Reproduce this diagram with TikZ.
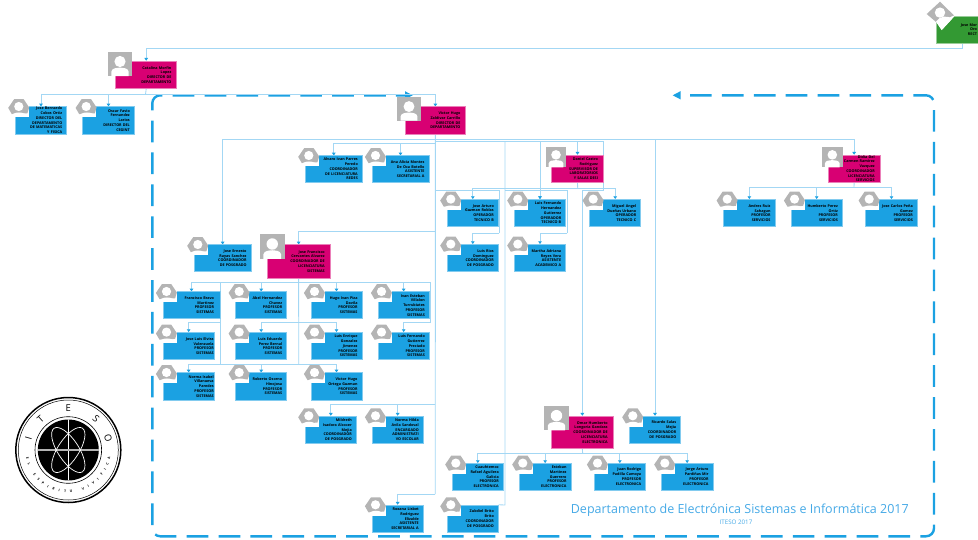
\documentclass[tikz,border=0pt]{standalone}
\usepackage{fontspec}
\setmainfont{Open Sans}
\usetikzlibrary{arrows.meta,calc}
\definecolor{cblue}{HTML}{1BA1E2}
\definecolor{cmag}{HTML}{D80073}
\definecolor{cgreen}{HTML}{339933}
\definecolor{cline}{HTML}{A3D7F4}
\definecolor{cgray}{HTML}{B4B4B4}
\definecolor{ctitle}{HTML}{45A9E6}
\pgfdeclarelayer{bg}
\pgfsetlayers{bg,main}
\tikzset{
  x=1pt,y=-1pt,
  cardbase/.style={rectangle,inner ysep=0pt,align=right,text=black,font=\bfseries\fontsize{3.7}{4.75}\selectfont},
  bluecard/.style={cardbase,fill=cblue,draw=cblue!55,line width=.5pt},
  magcard/.style={cardbase,fill=cmag,draw=cmag!50,line width=.5pt},
  greencard/.style={cardbase,fill=cgreen,draw=cgreen!50,line width=.5pt},
  link/.style={draw=cline,line width=.85pt},
  arr/.style={link,-{Triangle[width=3.6pt,length=2.8pt,color=cblue]}},
  frame/.style={draw=cblue,line width=2.4pt,dash pattern=on 21.7pt off 10.2pt,rounded corners=8pt},
  titletext/.style={text=ctitle,inner sep=0pt}
}
% #1 name #2 x0 #3 y0 #4 x1 #5 y1 #6 margin #7 style #8 text
\newcommand\basecard[8]{%
  \pgfmathsetmacro\crdw{#4-#2}%
  \pgfmathsetmacro\crdh{#5-#3}%
  \pgfmathsetmacro\crdx{(#4+#2)/2}%
  \pgfmathsetmacro\crdy{(#5+#3)/2}%
  \pgfmathsetmacro\crdt{#4-#2-2*#6}%
  \node[#7,inner xsep=#6pt,minimum width=\crdw pt,minimum height=\crdh pt,text width=\crdt pt] (#1) at (\crdx,\crdy) {#8};%
}
% blue card with hexagon portrait: [margin]{name}{x0}{y0}{x1}{y1}{text}
\newcommand\bcard[7][4.5]{%
  \basecard{#2}{#3}{#4}{#5}{#6}{#1}{bluecard}{#7}%
  \fill[white] (#3-.7,#4-.7) rectangle (#3+13.7,#4+10.7);%
  \begin{scope}[shift={(#3+3.5,#4)}]
    \fill[cgray] (-10.6,1.2) -- (-4.6,-7.6) -- (4.8,-7.6) -- (10.4,.8) -- (8.6,6.6) -- (-7,7.4) -- cycle;
    \fill[white] (0,-.2) circle (4.6);
    \fill[white] (-7.4,10.7) .. controls (-7.4,4.4) and (8.6,4.4) .. (8.6,10.7) -- cycle;
  \end{scope}%
}
% magenta card with square portrait: [size]{name}{x0}{y0}{x1}{y1}{left}{top}{text}
\newcommand\mcard[9][24]{%
  \basecard{#2}{#3}{#4}{#5}{#6}{5.3}{magcard}{#9}%
  \fill[white] (#3-.7,#4-.7) rectangle (#7+#1,#8+#1);%
  \begin{scope}[shift={(#7,#8)},scale=#1/24]
    \fill[cgray] (0,0) rectangle (24,24);
    \fill[white] (12,9.5) circle (5.6);
    \fill[white] (3.4,24) -- (3.4,19.5) .. controls (4,15.8) and (9,16) .. (12,15.6) .. controls (15,16) and (20,15.8) .. (20.6,19.5) -- (20.6,24) -- cycle;
  \end{scope}%
}
\begin{document}
\begin{tikzpicture}
\useasboundingbox (0,0) rectangle (978,539);
% --- Green card (runs to the page edge)
\basecard{rector}{936.7}{16}{978}{43}{1}{greencard}{Jose Mor\\Oro\\RECT}
\fill[white] (936,15.3) -- (936,21.7) -- (941.7,30) -- (954,16.7) -- (954,15.3) -- cycle;
\fill[cgray] (940,1.7) -- (926.7,14) -- (936.7,22.6) -- (954,15.4) -- cycle;
\fill[white] (940,12.6) circle (5.2);
\fill[white] (936,21.5) -- (941.7,30) -- (952,18.8) .. controls (947,15) and (940,16) .. cycle;
% --- Direction
\mcard{catalina}{115.7}{61}{176.7}{88.7}{108}{52}{Catalina Morfin\\Lopez\\DIRECTOR DE\\DEPARTAMENTO}
\bcard{bernardo}{15.3}{106.7}{66.7}{134}{Jose Bernardo\\Cobos Ortiz\\DIRECTOR DEL\\DEPARTAMENTO\\DE MATEMATICAS\\Y FISICA}
\bcard{oscar}{82.7}{106.7}{134.3}{134}{Oscar Favio\\Fernandez\\Larios\\DIRECTOR DEL\\CEGINT}
\mcard[23.4]{victor}{405}{106.7}{465.7}{134}{397.3}{97.3}{Victor Hugo\\Zaldivar Carrillo\\DIRECTOR DE\\DEPARTAMENTO}
% --- Redes / assistant
\bcard{alvaro}{305.3}{155.7}{362.3}{182.3}{Alvaro Ivan Parres\\Peredo\\COORDINADOR\\DE LICENCIATURA\\REDES}
\bcard{ana}{372}{155.7}{429}{182.3}{Ana Alicia Montes\\De Oca Botello\\ASISTENTE\\SECRETARIAL A}
% --- Labs
\mcard[20.6]{daniel}{551.7}{155}{603.3}{182.3}{545.7}{146.7}{Daniel Castro\\Rodriguez\\SUPERVISOR DE\\LABORATORIOS\\Y SALAS DESI}
\bcard{arturo}{447.3}{199.3}{498.3}{226.7}{Jose Arturo\\Guzman Roblas\\OPERADOR\\TECNICO B}
\bcard{lfernando}{514.3}{199.3}{565.7}{226.7}{Luis Fernando\\Hernandez\\Gutierrez\\OPERADOR\\TECNICO B}
\bcard{miguel}{589.7}{199.3}{640.7}{226.7}{Miguel Angel\\Dueñas Urbano\\OPERADOR\\TECNICO C}
\bcard{lrios}{447.3}{244.3}{498.3}{271.7}{Luis Rios\\Dominguez\\COORDINADOR\\DE POSGRADO}
\bcard{martha}{514.3}{244.3}{565.7}{271.7}{Martha Adriana\\Reyes Vera\\ASISTENTE\\ACADEMICO A}
% --- Servicios
\mcard[20.6]{didia}{828.3}{155}{880}{182.3}{822}{146.7}{Didia Del\\Carmen Ramirez\\Vazquez\\COORDINADOR\\LICENCIATURA\\SERVICIOS}
\bcard{andres}{723.7}{199.3}{775}{226.7}{Andres Ruiz\\Sahagun\\PROFESOR\\SERVICIOS}
\bcard{humberto}{791}{199.3}{842.3}{226.7}{Humberto Perez\\Ortiz\\PROFESOR\\SERVICIOS}
\bcard{jcarlos}{865.7}{199.3}{917.3}{226.7}{Jose Carlos Peña\\Gomez\\PROFESOR\\SERVICIOS}
% --- Sistemas
\bcard{ernesto}{194.3}{244.7}{251}{271.7}{Jose Ernesto\\Rayas Sanchez\\COORDINADOR\\DE POSGRADO}
\mcard[24.5]{jfrancisco}{267.3}{244.7}{330}{278}{260}{234.3}{Jose Francisco\\Cervantes Alvarez\\COORDINADOR DE\\LICENCIATURA\\SISTEMAS}
\bcard[6]{francisco}{163}{291.7}{220}{318.7}{Francisco Bravo\\Martinez\\PROFESOR\\SISTEMAS}
\bcard{abel}{235.7}{291.7}{286.7}{318.7}{Abel Hernandez\\Chavez\\PROFESOR\\SISTEMAS}
\bcard{hugo}{311}{291.7}{362}{318.7}{Hugo Ivan Piza\\Davila\\PROFESOR\\SISTEMAS}
\bcard{ivan}{378}{291.7}{429.3}{318.7}{Ivan Esteban\\Villalon\\Turrubiates\\PROFESOR\\SISTEMAS}
\bcard[.6]{jluis}{163}{332.3}{214.3}{359.7}{Jose Luis Elvira\\Valenzuela\\PROFESOR\\SISTEMAS}
\bcard{leduardo}{235.7}{332.3}{286.7}{359.7}{Luis Eduardo\\Perez Bernal\\PROFESOR\\SISTEMAS}
\bcard{lenrique}{311}{332.3}{362}{359.7}{Luis Enrique\\Gonzalez\\Jimenez\\PROFESOR\\SISTEMAS}
\bcard{lgutierrez}{378}{332.3}{429.3}{359.7}{Luis Fernando\\Gutierrez\\Preciado\\PROFESOR\\SISTEMAS}
\bcard[.6]{norma}{163}{372.7}{214.3}{400}{Norma Isabel\\Villanueva\\Paredes\\PROFESOR\\SISTEMAS}
\bcard{roberto}{235.7}{372.7}{286.7}{400}{Roberto Osorno\\Hinojosa\\PROFESOR\\SISTEMAS}
\bcard{vortega}{311}{372.7}{362}{400}{Victor Hugo\\Ortega Guzman\\PROFESOR\\SISTEMAS}
% --- Admin
\bcard{mildreth}{305.3}{416}{356.3}{443.3}{Mildreth\\Isadora Alcocer\\Mejia\\COORDINADOR\\DE POSGRADO}
\bcard{nhilda}{372}{416}{423.3}{443.3}{Norma Hilda\\Avila Sandoval\\ENCARGADO\\ADMINISTRATI\\VO ESCOLAR}
\bcard{roxana}{372}{505}{423.3}{532.3}{Roxana Lisbet\\Rodriguez\\Elizalde\\ASISTENTE\\SECRETARIAL A}
\bcard{zubdiel}{447.3}{505}{498.3}{532.3}{Zubdiel Brito\\Brito\\COORDINADOR\\DE POSGRADO}
% --- Electronica
\mcard[24.4]{omar}{551.7}{416}{613}{448.7}{544.3}{406}{Omar Humberto\\Longoria Gandara\\COORDINADOR DE\\LICENCIATURA\\ELECTRONICA}
\bcard{rsalas}{629.3}{416}{680.7}{443.3}{Ricardo Salas\\Mejia\\COORDINADOR\\DE POSGRADO}
\bcard{cuauhtemoc}{452.3}{463.3}{503.3}{490}{Cuauhtemoc\\Rafael Aguilera\\Galicia\\PROFESOR\\ELECTRONICA}
\bcard{esteban}{519.3}{463.3}{571}{490}{Esteban\\Martinez\\Guerrero\\PROFESOR\\ELECTRONICA}
\bcard{jrodrigo}{594}{463.3}{645.7}{490}{Juan Rodrigo\\Padilla Camoya\\PROFESOR\\ELECTRONICA}
\bcard{jorge}{661.3}{463.3}{713}{490}{Jorge Arturo\\Pardiñas Mir\\PROFESOR\\ELECTRONICA}
% --- Bus junctions
\coordinate (busrector) at (962.7,48.5);
\coordinate (buscat) at (145.5,94.3);
\coordinate (busvic) at (435.3,139);
\coordinate (buslab) at (435.3,141);
\coordinate (trunkend) at (435.3,494);
\coordinate (busadm) at (435.3,404.7);
\coordinate (busjf) at (435.3,231);
\coordinate (busalv) at (435.3,143.7);
\coordinate (busop) at (435.3,190.7);
\coordinate (rarturo) at (499.3,233.3);
\coordinate (busmid) at (505,190.7);
\coordinate (rmartha) at (567.3,233.3);
\coordinate (labr) at (603.7,141);
\coordinate (omarj) at (603.7,190.7);
\coordinate (busdan) at (577.7,188.3);
\coordinate (busdid) at (854,187.7);
\coordinate (busjfb) at (298.7,282.3);
\coordinate (rowtwo) at (298.7,322.7);
\coordinate (rowthree) at (298.7,364.3);
\coordinate (lefttwo) at (220.3,322.7);
\coordinate (righttwo) at (430,322.7);
\coordinate (busomar) at (582.7,453.5);
\coordinate (vm) at (505,141);
\coordinate (zubj) at (505,505);
\begin{pgfonlayer}{bg}
% dashed frame
\draw[frame] (690,95.3) -- (934,95.3) -- (934,536.3) -- (152.3,536.3) -- (152.3,95.3) -- (405,95.3);
\fill[cblue] (672.7,95.3) -- (680.5,91.2) -- (680.5,99.4) -- cycle;
\fill[cblue] (412.7,95.3) -- (405,91.2) -- (405,99.4) -- cycle;
% rector - Catalina
\draw[link] (rector.south -| busrector) -- (busrector) -- (busrector -| catalina.north);
\draw[arr] (busrector -| catalina.north) -- (catalina.north);
\draw[link] (catalina.south) -- (buscat);
\draw[arr] (buscat) -| (bernardo.north);
\draw[arr] (buscat) -| (oscar.north);
\draw[arr] (buscat) -| (victor.north);
% Victor
\draw[link] (victor.south) -- (trunkend);
\draw[arr] (trunkend) -| (roxana.north);
\draw[arr] (busvic) -| (ernesto.north);
\draw[arr] (busvic) -| (didia.north);
\draw[link] (buslab) -- (labr);
\draw[arr] (busalv) -| (alvaro.north);
\draw[arr] (busalv) -| (ana.north);
\draw[arr] (busjf) -| (jfrancisco.north);
\draw[arr] (busadm) -| (mildreth.north);
\draw[arr] (busadm) -| (nhilda.north);
% labs
\draw[arr] (daniel.north |- buslab) -- (daniel.north);
\draw[link] (daniel.south) -- (busdan);
\draw[arr] (busdan) -| (arturo.north);
\draw[arr] (busdan) -| (lfernando.north);
\draw[arr] (busdan) -| (miguel.north);
\draw[link] (busop) -| (rarturo);
\draw[arr] (rarturo) -| (lrios.north);
\draw[link] (busmid) -| (rmartha);
\draw[arr] (rmartha) -| (martha.north);
\draw[arr] (lfernando.north |- buslab) -- (lfernando.north);
\draw[link] (vm) -- (zubj) -- (zubdiel.north east);
% Electronica
\draw[link] (labr) -- (omarj) -- (omarj -| omar.north);
\draw[arr] (omarj -| omar.north) -- (omar.north);
\draw[arr] (rsalas.north |- busvic) -- (rsalas.north);
\draw[link] (omar.south) -- (busomar);
\draw[arr] (busomar) -| (cuauhtemoc.north);
\draw[arr] (busomar) -| (esteban.north);
\draw[arr] (busomar) -| (jrodrigo.north);
\draw[arr] (busomar) -| (jorge.north);
% Servicios
\draw[link] (didia.south) -- (busdid);
\draw[arr] (busdid) -| (andres.north);
\draw[arr] (busdid) -| (humberto.north);
\draw[arr] (busdid) -| (jcarlos.north);
% Sistemas
\draw[link] (jfrancisco.south) -- (rowthree);
\draw[arr] (busjfb) -| (francisco.north);
\draw[arr] (busjfb) -| (abel.north);
\draw[arr] (busjfb) -| (hugo.north);
\draw[arr] (busjfb) -| (ivan.north);
\draw[link] (busjfb) -| (righttwo);
\draw[arr] (righttwo) -| (lgutierrez.north);
\draw[link] (busjfb) -| (lefttwo |- rowthree) -- (rowthree);
\draw[arr] (lefttwo) -| (jluis.north);
\draw[arr] (rowtwo) -| (leduardo.north);
\draw[arr] (rowtwo) -| (lenrique.north);
\draw[arr] (rowthree) -| (norma.north);
\draw[arr] (rowthree) -| (roberto.north);
\draw[arr] (rowthree) -| (vortega.north);
\end{pgfonlayer}
% Title
\node[titletext,anchor=east,font=\fontsize{12.5}{14}\selectfont] (titlea) at (909,510) {Departamento de Electrónica Sistemas e Informática 2017};
\node[titletext,anchor=west,font=\fontsize{6.2}{7}\selectfont] (titleb) at (719.5,522) {ITESO 2017};
% Logo
\begin{scope}[shift={(68.3,450)}]
\begin{scope}[y=1pt]
  \draw[black,line width=1.5pt] (0,0) circle (52.5);
  \draw[black,line width=.5pt] (0,0) circle (50);
  \draw[black,line width=.6pt] (0,0) circle (33.3);
  \fill[black] (0,0) circle (30.5);
  \begin{scope}
    \clip (0,0) circle (30.5);
    \draw[white,line width=.7pt] (0,-31) -- (0,31);
    \draw[cgray,line width=1.4pt] (-31,0) -- (31,0);
  \end{scope}
  \draw[white,line width=.7pt,rotate=33] (0,0) ellipse (10.5 and 26);
  \draw[white,line width=.7pt,rotate=-33] (0,0) ellipse (10.5 and 26);
  \foreach \ang/\ch in {164/I,132/T,90/E,48/S,16/O}{
    \pgfmathsetmacro\rot{\ang-90}
    \node[text=black,inner sep=0pt,rotate=\rot,font=\fontsize{9.5}{10}\selectfont] at (\ang:41.5) {\ch};
  }
  \foreach \i/\ch in {0/E,1/L,3/E,4/S,5/P,6/I,7/R,8/I,9/T,10/U,12/V,13/I,14/V,15/I,16/F,17/I,18/C,19/A}{
    \pgfmathsetmacro\ang{191+\i*8.3}
    \pgfmathsetmacro\rot{\ang+90}
    \node[text=black,inner sep=0pt,rotate=\rot,font=\bfseries\fontsize{3.4}{4}\selectfont] at (\ang:41.5) {\ch};
  }
\end{scope}
\end{scope}
\end{tikzpicture}
\end{document}
